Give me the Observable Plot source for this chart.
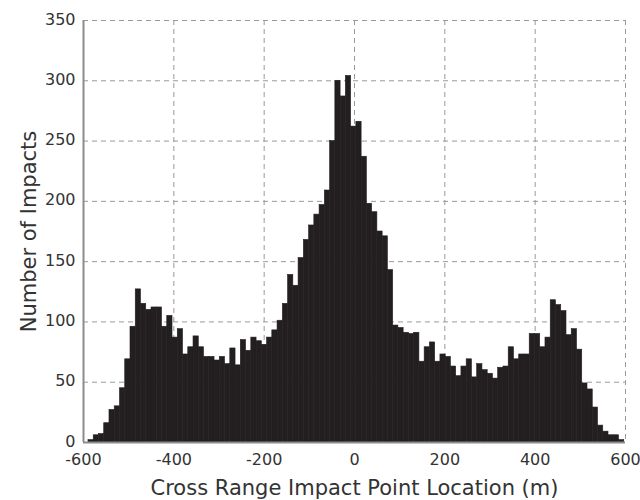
<!DOCTYPE html>
<html>
<head>
<meta charset="utf-8">
<script src="https://cdn.jsdelivr.net/npm/d3@7"></script>
<script src="https://cdn.jsdelivr.net/npm/@observablehq/plot@0.6"></script>
<style>
  html, body { margin: 0; padding: 0; background: #fff; }
</style>
</head>
<body>
<div id="chart"></div>
<script>
// Histogram data
const binStart = -589;   // left edge of first bin (m)
const binWidth = 11.63;  // bin width (m)
const counts = [
  2, 6, 7, 16, 27, 30, 45, 69, 96, 127,
  115, 110, 112, 112, 96, 105, 87, 94, 73, 79,
  88, 79, 71, 71, 68, 71, 65, 78, 64, 85,
  76, 87, 84, 81, 87, 93, 101, 115, 139, 130,
  153, 168, 180, 189, 197, 209, 250, 300, 287, 304,
  262, 266, 237, 198, 191, 175, 171, 143, 97, 95,
  91, 90, 91, 67, 79, 83, 67, 73, 71, 63,
  55, 63, 69, 54, 65, 60, 57, 53, 62, 63,
  79, 69, 73, 73, 90, 90, 79, 87, 118, 114,
  109, 89, 94, 77, 49, 44, 29, 14, 9, 6,
  6, 2
];
const xTicks = [-600, -400, -200, 0, 200, 400, 600];
const yTicks = [0, 50, 100, 150, 200, 250, 300, 350];
const xLabel = ["Cross Range Impact Point Location (m)"];
const yLabel = ["Number of Impacts"];

const bins = counts.map((c, i) => ({
  x1: binStart + i * binWidth,
  x2: binStart + (i + 1) * binWidth,
  count: c
}));

const textColor = "#333333";
const font = "'DejaVu Sans', sans-serif";
const chart = Plot.plot({
  width: 640,
  height: 500,
  marginLeft: 83,
  marginRight: 15,
  marginTop: 20,
  marginBottom: 58,
  style: { fontFamily: font, fontSize: "16px", color: textColor, background: "#fff" },
  x: { domain: [-600, 600] },
  y: { domain: [0, 350] },
  marks: [
    Plot.gridX(xTicks, { stroke: "#999", strokeOpacity: 1, strokeDasharray: "5,4", strokeWidth: 1 }),
    Plot.gridY(yTicks, { stroke: "#999", strokeOpacity: 1, strokeDasharray: "5,4", strokeWidth: 1 }),
    Plot.rectY(bins, { x1: "x1", x2: "x2", y: "count", fill: "#231f20", stroke: "#231f20", strokeWidth: 0.6 }),
    Plot.ruleX([-600], { stroke: "#8c8c8c", strokeWidth: 2 }),
    Plot.ruleY([0], { stroke: "#8c8c8c", strokeWidth: 2 }),
    Plot.axisX(xTicks, { tickSize: 0, tickPadding: 11, label: null, fontSize: 16, fill: textColor, tickFormat: d => String(d) }),
    Plot.axisY(yTicks, { tickSize: 0, tickPadding: 8, dy: -1, label: null, fontSize: 16, fill: textColor, tickFormat: d => String(d) }),
    Plot.text(xLabel, { frameAnchor: "bottom", textAnchor: "middle", lineAnchor: "middle", dy: 46, fontSize: 21, fill: textColor, text: d => d }),
    Plot.text(yLabel, { frameAnchor: "left", textAnchor: "middle", lineAnchor: "middle", dx: -54, rotate: -90, fontSize: 21, fill: textColor, text: d => d })
  ]
});
document.getElementById("chart").appendChild(chart);
</script>
</body>
</html>
